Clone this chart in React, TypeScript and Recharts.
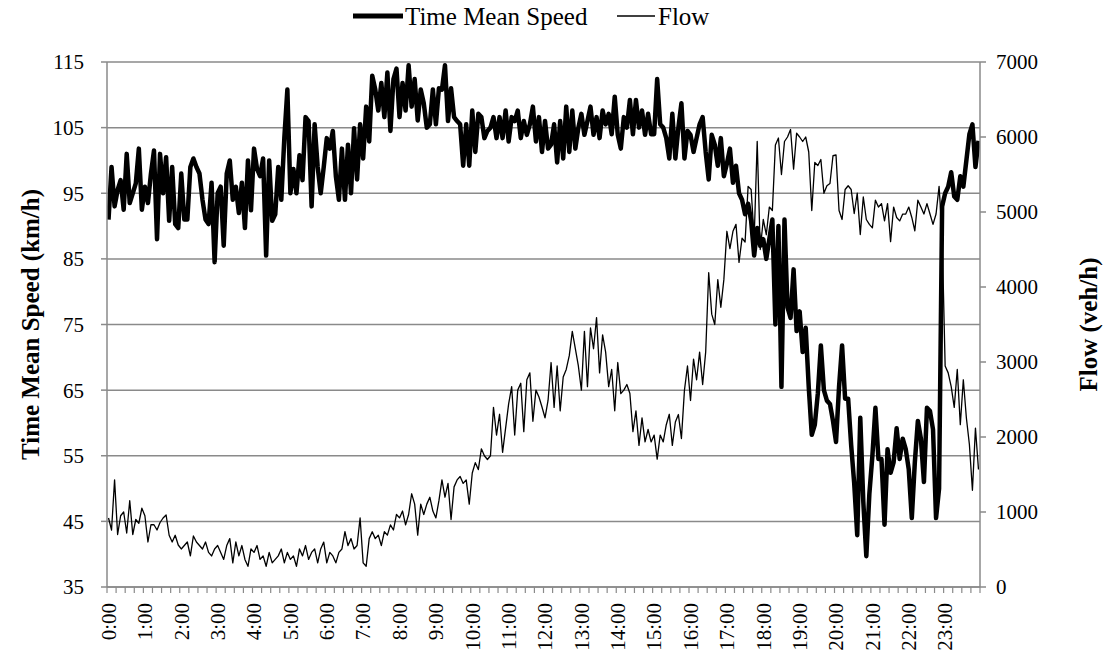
import React from 'react';
import { ComposedChart, Line, XAxis, YAxis, CartesianGrid } from 'recharts';

const hourLabels = ['0:00','1:00','2:00','3:00','4:00','5:00','6:00','7:00','8:00','9:00','10:00','11:00','12:00','13:00','14:00','15:00','16:00','17:00','18:00','19:00','20:00','21:00','22:00','23:00'];

const speedTicks = [35, 45, 55, 65, 75, 85, 95, 105, 115];
const flowTicks = [0, 1000, 2000, 3000, 4000, 5000, 6000, 7000];

// 5-minute intervals, 12 values per hour
const speedValues = [
  91, 99, 93, 95.5, 97, 92.5, 101, 93.5, 95, 96.5, 101.8, 92.5,
  96, 93.5, 98, 101.5, 88, 101, 95, 100.5, 90.8, 99, 90.3, 89.7,
  98, 91, 91, 99, 100.3, 99, 98, 94, 91, 90.3, 96.6, 84.5,
  95, 96, 87, 98, 100, 94, 96, 92, 96.6, 89.7, 100, 92.4,
  101.8, 98.7, 97.6, 100.3, 85.5, 100, 90.8, 91.8, 99, 94, 103.4, 110.8,
  95, 98.7, 95, 100.8, 97, 106.6, 106, 93, 105.5, 99, 95, 99,
  103.4, 101.8, 104.5, 97.6, 94, 101.8, 94, 102.4, 95, 104.9, 97.1, 105.5,
  100.3, 108.2, 102.9, 112.9, 110.8, 107.6, 111.8, 106.6, 113.4, 104.5, 112.4, 114,
  106.6, 111.8, 107.6, 114.5, 108.2, 112.4, 106.1, 110.8, 108.7, 105, 105.5, 110.8,
  105.5, 111, 110.8, 114.5, 106, 111, 106.6, 106, 105.5, 99.2, 105.5, 99.2,
  107.6, 101.3, 107.1, 106.6, 103.4, 104.5, 105, 106.6, 103.4, 106.6, 103.4, 107.6,
  102.9, 106.6, 106, 107.6, 103.4, 106, 103.9, 105.5, 108.2, 102.9, 106.6, 101.3,
  106, 101.8, 102.4, 105.5, 99.7, 106, 100.3, 108.2, 101.3, 107.6, 101.8, 105,
  107.1, 103.9, 106, 108.2, 103.9, 106.6, 103.4, 107.6, 105.5, 107.1, 104, 109.7,
  103.9, 101.8, 106.6, 105, 109.2, 104, 109.2, 105, 107.6, 103.9, 107.1, 104,
  104, 112.4, 105.5, 105, 103.4, 100.3, 107.1, 100.3, 105, 108.7, 100.3, 104.5,
  103.9, 101.3, 103.4, 105.5, 106.6, 101.3, 97.1, 103.9, 102.4, 99.2, 103.4, 97.6,
  99.5, 101.8, 96.6, 99.2, 95, 94, 91.8, 93.4, 90.8, 85.5, 89.7, 87,
  88, 85, 88, 91, 75, 90, 65.5, 91, 77.6, 76, 83.4, 74,
  77, 70.8, 74.5, 65.5, 58.2, 59.7, 64.5, 71.8, 65, 63.4, 62.9, 60.3,
  57.1, 65.5, 71.8, 63.7, 63.7, 56.6, 50.8, 42.9, 60.8, 48, 39.7, 49.2,
  55, 62.3, 54.5, 54.5, 44.5, 56, 52.4, 54, 59.2, 54.5, 57.6, 56,
  52.9, 45.5, 54, 60.3, 57.6, 51, 62.3, 61.8, 59, 45.5, 50, 93,
  95, 96, 98.2, 94.5, 94, 97.6, 96, 100, 104, 105.5, 99, 103,
];

const flowValues = [
  920, 760, 1428, 700, 950, 1000, 720, 1150, 700, 900, 850, 1050,
  950, 600, 830, 830, 760, 860, 920, 960, 690, 600, 690, 560,
  507, 553, 600, 414, 680, 600, 553, 507, 600, 461, 414, 507,
  553, 461, 368, 553, 645, 322, 600, 415, 553, 368, 276, 507,
  461, 553, 368, 415, 276, 461, 322, 368, 415, 507, 322, 461,
  368, 415, 276, 507, 415, 553, 368, 461, 507, 322, 507, 599,
  322, 461, 414, 322, 461, 507, 737, 553, 645, 507, 553, 921,
  322, 276, 645, 737, 645, 691, 553, 737, 691, 829, 760, 967,
  921, 1013, 829, 967, 1243, 1105, 691, 1105, 967, 1105, 1197, 1013,
  921, 1151, 1428, 1197, 1381, 900, 1335, 1428, 1474, 1381, 1428, 1105,
  1520, 1658, 1566, 1842, 1750, 1700, 1750, 2395, 2026, 2303, 1796, 2118,
  2441, 2671, 2026, 2625, 2717, 2072, 2763, 2855, 2210, 2625, 2533, 2400,
  2256, 2487, 2993, 2395, 2947, 2349, 2800, 2901, 3085, 3408, 3177, 2947,
  2625, 3408, 2671, 3454, 3177, 3592, 2855, 3362, 3131, 2671, 2901, 2349,
  2993, 2579, 2625, 2700, 2579, 2072, 2349, 1888, 2256, 1934, 2100, 1934,
  2026, 1704, 2026, 1934, 2164, 2303, 1888, 2200, 2300, 1980, 2625, 2947,
  2487, 3039, 2763, 3131, 2700, 3131, 4190, 3638, 3500, 4098, 3730, 4098,
  4743, 4513, 4743, 4835, 4329, 4651, 4600, 5342, 5300, 4651, 5940, 4500,
  4900, 4697, 5066, 5020, 5894, 5987, 5500, 5940, 6000, 6100, 5572, 6050,
  6000, 5940, 6000, 5800, 5020, 5660, 5620, 5700, 5250, 5350, 5380, 5750,
  5760, 5020, 4900, 5300, 5350, 5300, 4980, 5250, 4700, 5200, 4900, 4835,
  4789, 5158, 5066, 5112, 4881, 5112, 4605, 5066, 4927, 4881, 4973, 4973,
  5066, 4927, 4750, 5158, 5066, 4973, 5112, 4973, 4835, 4973, 5342, 4700,
  2947, 2855, 2671, 2395, 2900, 2164, 2763, 2256, 1900, 1290, 2118, 1566,
];

const data = speedValues.map((s, i) => ({ idx: i, speed: s, flow: flowValues[i] }));

// tick marks every 15 minutes, placed between categories
const minorTicks = Array.from({ length: 97 }, (_, k) => k * 3 - 0.5);

const FONT = '"Liberation Serif", "Times New Roman", serif';
const GRID = '#8a8a8a';

const XTick = (props: any) => {
  const { x, y, payload } = props;
  const cat = payload.value + 0.5;
  if (cat % 12 !== 0 || cat >= 288) return <g />;
  const label = hourLabels[cat / 12];
  const tx = x + 1.5;
  const ty = y + 8;
  return (
    <text
      x={tx}
      y={ty}
      dy="0.35em"
      textAnchor="end"
      fontSize={21}
      fontFamily={FONT}
      fill="#000"
      transform={`rotate(-90 ${tx} ${ty})`}
    >
      {label}
    </text>
  );
};

export default function App() {
  return (
    <div style={{ position: 'absolute', left: 0, top: 0, width: 1110, height: 663, background: '#fff' }}>
      <ComposedChart
        width={1110}
        height={663}
        data={data}
        margin={{ top: 62, right: 0, bottom: 0, left: 0 }}
      >
        <CartesianGrid yAxisId="left" vertical={false} stroke={GRID} strokeWidth={1.5} />
        <XAxis
          dataKey="idx"
          type="number"
          domain={[-0.5, 287.5]}
          allowDataOverflow
          ticks={minorTicks}
          interval={0}
          tick={<XTick />}
          tickSize={6}
          tickLine={{ stroke: GRID, strokeWidth: 1.2 }}
          axisLine={{ stroke: GRID, strokeWidth: 1.5 }}
          height={76}
        />
        <YAxis
          yAxisId="left"
          domain={[35, 115]}
          ticks={speedTicks}
          interval={0}
          width={107}
          tickSize={6}
          tickMargin={17}
          tickLine={{ stroke: GRID, strokeWidth: 1.5 }}
          axisLine={{ stroke: GRID, strokeWidth: 1.5 }}
          tick={{ fill: '#000', fontSize: 21, fontFamily: FONT }}
          label={(p: any) => {
            const vb = p.viewBox || { x: 0, y: 62, width: 107, height: 525 };
            const cx = 30;
            const cy = vb.y + vb.height / 2;
            return (
              <text
                x={cx}
                y={cy}
                textAnchor="middle"
                dy="0.35em"
                fontSize={25}
                fontWeight="bold"
                fontFamily={FONT}
                fill="#000"
                transform={`rotate(-90 ${cx} ${cy})`}
              >
                Time Mean Speed (km/h)
              </text>
            );
          }}
        />
        <YAxis
          yAxisId="right"
          orientation="right"
          domain={[0, 7000]}
          ticks={flowTicks}
          interval={0}
          width={130}
          tickSize={6}
          tickMargin={10}
          tickLine={{ stroke: GRID, strokeWidth: 1.5 }}
          axisLine={{ stroke: GRID, strokeWidth: 1.5 }}
          tick={{ fill: '#000', fontSize: 21, fontFamily: FONT }}
          label={(p: any) => {
            const vb = p.viewBox || { x: 980, y: 62, width: 130, height: 525 };
            const cx = 1088;
            const cy = vb.y + vb.height / 2;
            return (
              <text
                x={cx}
                y={cy}
                textAnchor="middle"
                dy="0.35em"
                fontSize={25}
                fontWeight="bold"
                fontFamily={FONT}
                fill="#000"
                transform={`rotate(-90 ${cx} ${cy})`}
              >
                Flow (veh/h)
              </text>
            );
          }}
        />
        <Line
          yAxisId="left"
          type="linear"
          dataKey="speed"
          name="Time Mean Speed"
          stroke="#000"
          strokeWidth={4.5}
          strokeLinejoin="round"
          dot={false}
          activeDot={false}
          isAnimationActive={false}
        />
        <Line
          yAxisId="right"
          type="linear"
          dataKey="flow"
          name="Flow"
          stroke="#000"
          strokeWidth={1.3}
          strokeLinejoin="round"
          dot={false}
          activeDot={false}
          isAnimationActive={false}
        />
      </ComposedChart>
      <svg
        width={1110}
        height={40}
        style={{ position: 'absolute', left: 0, top: 0, pointerEvents: 'none' }}
      >
        <line x1={353} y1={16} x2={403} y2={16} stroke="#000" strokeWidth={5} />
        <text x={405} y={25} fontSize={25} fontFamily={FONT} fill="#000">Time Mean Speed</text>
        <line x1={617} y1={16} x2={655} y2={16} stroke="#000" strokeWidth={1.5} />
        <text x={658} y={25} fontSize={25} fontFamily={FONT} fill="#000">Flow</text>
      </svg>
    </div>
  );
}
